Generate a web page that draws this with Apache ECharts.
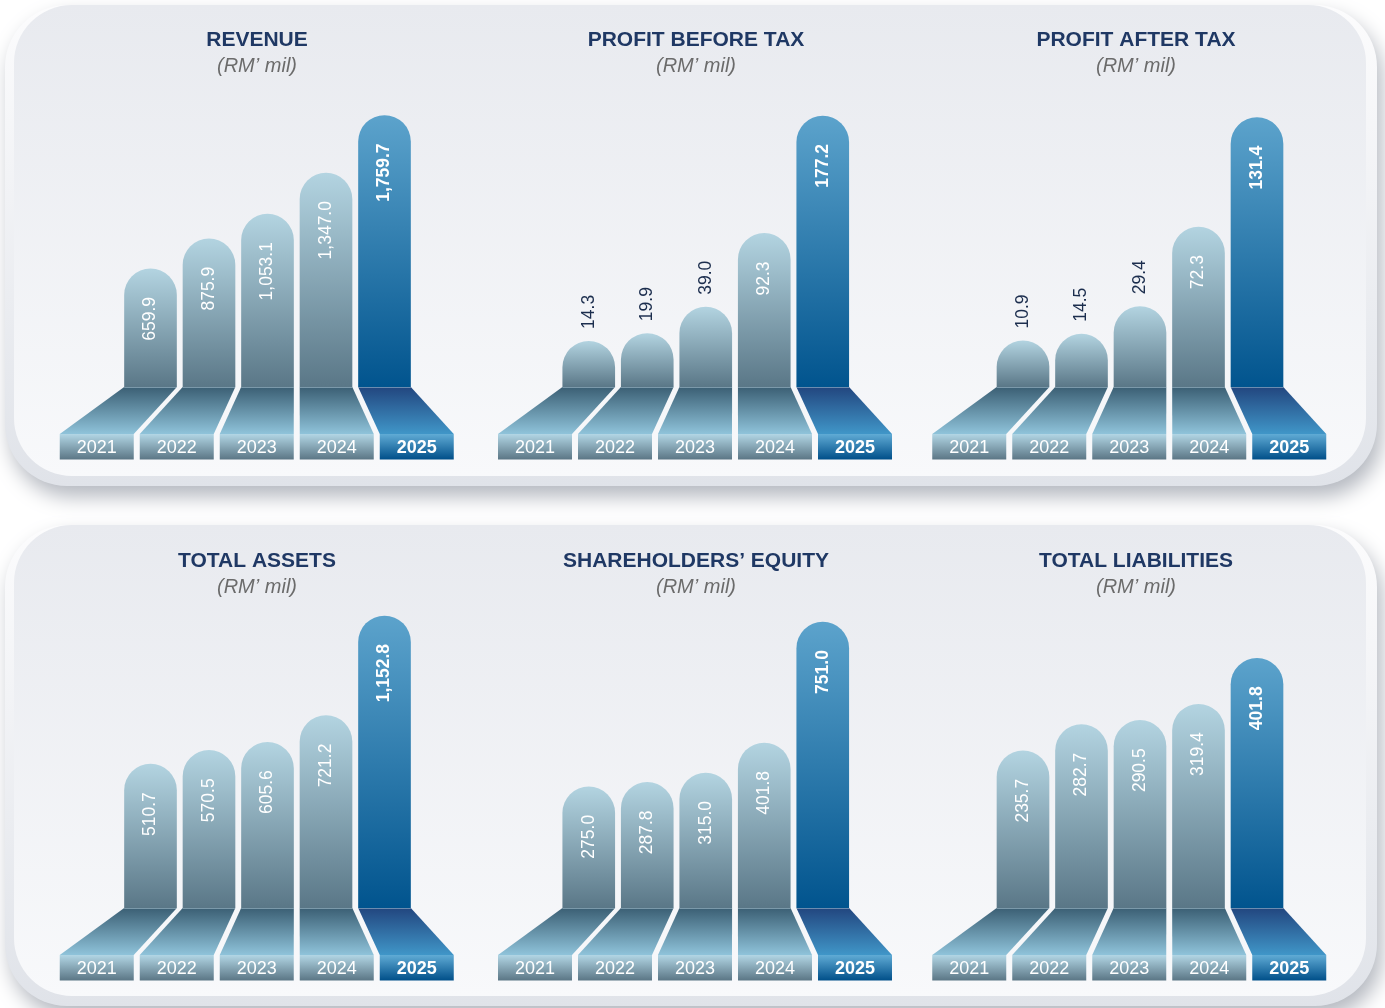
<!DOCTYPE html>
<html>
<head>
<meta charset="utf-8">
<script src="https://cdn.jsdelivr.net/npm/echarts@6/dist/echarts.min.js"></script>
<style>
html,body{margin:0;padding:0;background:#ffffff;}
#chart{width:1385px;height:1008px;}
</style>
</head>
<body>
<div id="chart"></div>
<script>
// ---------- data ----------
const years = ['2021', '2022', '2023', '2024', '2025'];
const revenue = [659.9, 875.9, 1053.1, 1347.0, 1759.7];
const profitBeforeTax = [14.3, 19.9, 39.0, 92.3, 177.2];
const profitAfterTax = [10.9, 14.5, 29.4, 72.3, 131.4];
const totalAssets = [510.7, 570.5, 605.6, 721.2, 1152.8];
const shareholdersEquity = [275.0, 287.8, 315.0, 401.8, 751.0];
const totalLiabilities = [235.7, 282.7, 290.5, 319.4, 401.8];
const titles = ['REVENUE', 'PROFIT BEFORE TAX', 'PROFIT AFTER TAX',
                'TOTAL ASSETS', 'SHAREHOLDERS\u2019 EQUITY', 'TOTAL LIABILITIES'];
const unitLabel = '(RM\u2019 mil)';
const axisMax = [2150, 217, 162, 1300, 867, 539];

const seriesValues = [revenue, profitBeforeTax, profitAfterTax,
                      totalAssets, shareholdersEquity, totalLiabilities];

// ---------- layout / style ----------
const FONT = "'Liberation Sans', Arial, Helvetica, sans-serif";
const L = {
  gridLeft: [121.25, 559.5, 993.75],
  gridWidth: 292.5,
  gridTop: 87,
  gridHeight: 300,
  rowOffset: [0, 521],
  titleX: [257, 696, 1136],
  titleTop: 29.5,
  barRatio: 0.9,
  stripShift: -10.75,
  stripPitch: 80,
  stripW: 74,
  stripH: 25.5,
  floorDepth: 47,
  outsideThreshold: 75
};
const C = {
  gray: {barTop: '#b3d4e1', barBot: '#5a7787', floorTop: '#3b5f74', floorBot: '#8fc3da',
         stripTop: '#b2d6e5', stripBot: '#5b7685'},
  blue: {barTop: '#5ca3cc', barBot: '#01548e', floorTop: '#22467f', floorBot: '#4096c8',
         stripTop: '#60abd5', stripBot: '#004f89'},
  title: '#1f3864',
  sub: '#6b6b6b',
  outsideLabel: '#1c2e4e'
};

function vgrad(a, b) {
  return {type: 'linear', x: 0, y: 0, x2: 0, y2: 1,
          colorStops: [{offset: 0, color: a}, {offset: 1, color: b}]};
}
function fmt(v) {
  return v.toLocaleString('en-US', {minimumFractionDigits: 1, maximumFractionDigits: 1});
}

function renderItem(params, api) {
  const i = params.dataIndex;
  const v = api.value(1);
  const base = api.coord([i, 0]);
  const top = api.coord([i, v]);
  const band = api.size([1, 0])[0];
  const w = band * L.barRatio;
  const r = w / 2;
  const cx = base[0];
  const x0 = cx - w / 2, x1 = cx + w / 2;
  const hl = i === years.length - 1;
  const pal = hl ? C.blue : C.gray;
  const midX = api.coord([2, 0])[0];
  const sc = midX + L.stripShift + (i - 2) * L.stripPitch;
  const sx0 = sc - L.stripW / 2, sx1 = sc + L.stripW / 2;
  const fy = base[1] + L.floorDepth;
  const children = [];
  // floor (perspective)
  children.push({
    type: 'polygon',
    shape: {points: [[x0, base[1]], [x1, base[1]], [sx1, fy], [sx0, fy]]},
    style: {fill: vgrad(pal.floorTop, pal.floorBot)}
  });
  // year strip
  children.push({
    type: 'rect',
    shape: {x: sx0, y: fy, width: L.stripW, height: L.stripH},
    style: {fill: vgrad(pal.stripTop, pal.stripBot)}
  });
  children.push({
    type: 'text',
    style: {x: sc, y: fy + L.stripH / 2 + 1, text: years[i], fill: '#ffffff',
            font: (hl ? 'bold ' : '') + '18px ' + FONT, align: 'center', verticalAlign: 'middle'}
  });
  // bar with rounded cap
  const barTop = top[1] - r;
  children.push({
    type: 'rect',
    shape: {x: x0, y: barTop, width: w, height: base[1] - barTop, r: [r, r, 0, 0]},
    style: {fill: vgrad(pal.barTop, pal.barBot)}
  });
  // thin highlight line at floor join
  children.push({
    type: 'line',
    shape: {x1: x0, y1: base[1] + 0.5, x2: x1, y2: base[1] + 0.5},
    style: {stroke: 'rgba(200,225,235,0.45)', lineWidth: 1}
  });
  // value label
  const outside = (base[1] - top[1]) < L.outsideThreshold;
  children.push({
    type: 'text',
    x: cx,
    y: outside ? barTop - 12 : top[1] + 2,
    rotation: Math.PI / 2,
    style: {
      x: 0, y: 0, text: fmt(v),
      fill: outside ? C.outsideLabel : '#ffffff',
      font: (hl ? 'bold ' : '') + '17.5px ' + FONT,
      align: outside ? 'left' : 'right',
      verticalAlign: 'middle'
    }
  });
  return {type: 'group', children: children};
}

const grids = [], xAxes = [], yAxes = [], series = [], titleOpts = [];
seriesValues.forEach(function (vals, k) {
  const row = Math.floor(k / 3), col = k % 3;
  const oy = L.rowOffset[row];
  grids.push({left: L.gridLeft[col], top: L.gridTop + oy, width: L.gridWidth,
              height: L.gridHeight, containLabel: false, outerBoundsMode: 'none'});
  xAxes.push({type: 'category', gridIndex: k, data: years, show: false,
              axisLine: {show: false}, axisTick: {show: false}, axisLabel: {show: false}});
  yAxes.push({type: 'value', gridIndex: k, min: 0, max: axisMax[k], show: false,
              splitLine: {show: false}, axisLabel: {show: false}});
  series.push({
    type: 'custom', name: titles[k], xAxisIndex: k, yAxisIndex: k,
    renderItem: renderItem, clip: false, silent: true,
    data: vals.map(function (v, i) { return [years[i], v]; })
  });
  titleOpts.push({
    text: titles[k], subtext: unitLabel,
    left: L.titleX[col], top: L.titleTop + oy, textAlign: 'center',
    padding: 0, itemGap: 6,
    textStyle: {fontFamily: FONT, fontSize: 21, fontWeight: 'bold', color: C.title},
    subtextStyle: {fontFamily: FONT, fontSize: 20, fontStyle: 'italic', color: C.sub}
  });
});

const panelGraphics = [];
[0, 520].forEach(function (oy) {
  panelGraphics.push({
    type: 'rect', z: 0,
    shape: {x: 5, y: 5 + oy, width: 1372, height: 481, r: 62},
    style: {fill: vgrad('#fcfcfd', '#e0e3e9'), shadowBlur: 20,
            shadowColor: 'rgba(60,70,90,0.38)', shadowOffsetX: 5, shadowOffsetY: 11}
  });
  panelGraphics.push({
    type: 'rect', z: 1,
    shape: {x: 14, y: 5 + oy, width: 1352, height: 471, r: 58},
    style: {fill: vgrad('#e8eaef', '#f8f9fb')}
  });
});

const chart = echarts.init(document.getElementById('chart'), null, {renderer: 'canvas'});
chart.setOption({
  backgroundColor: '#ffffff',
  animation: false,
  title: titleOpts,
  graphic: panelGraphics,
  grid: grids,
  xAxis: xAxes,
  yAxis: yAxes,
  series: series
});
</script>
</body>
</html>
